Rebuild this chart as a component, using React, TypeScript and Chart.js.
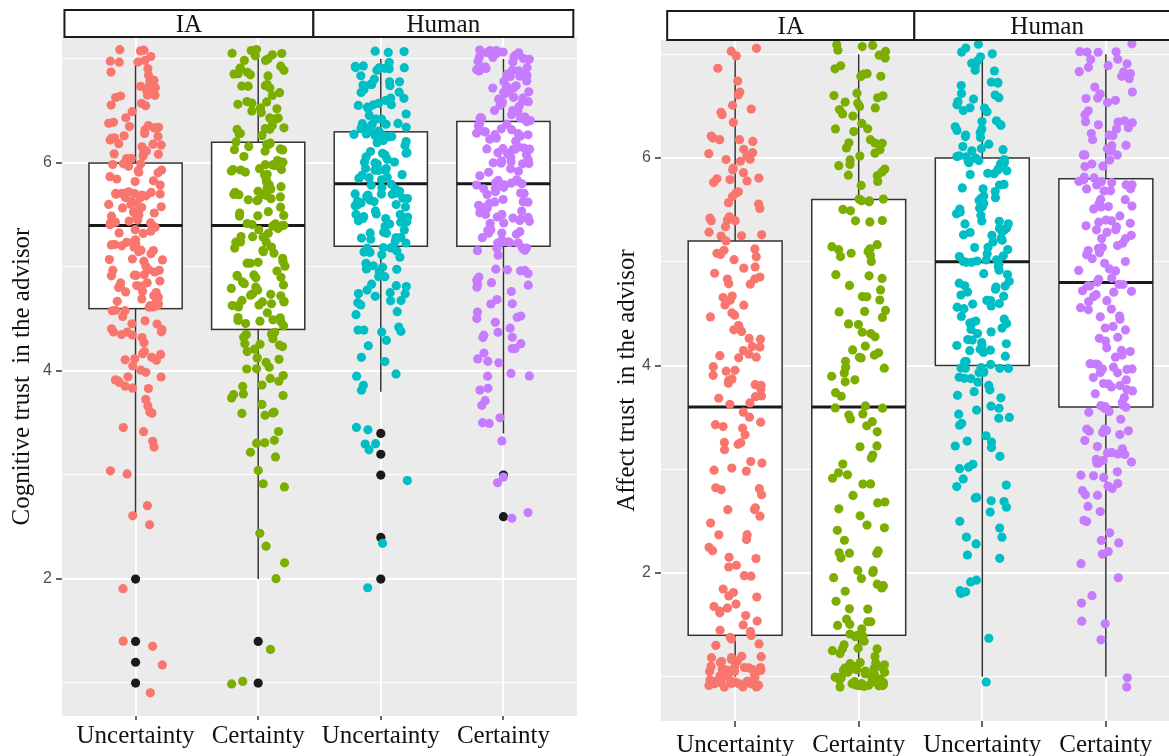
import React, { useEffect, useRef } from "react";
import { Chart, registerables } from "chart.js";

Chart.register(...registerables);

// ---------------- data ----------------
const categories = ["Uncertainty", "Certainty", "Uncertainty", "Certainty"];
const facetLabels = ["IA", "Human"];
const groupColors = ["#F8766D", "#7CAE00", "#00BFC4", "#C77CFF"];
const yTickValues = [1, 2, 3, 4, 5, 6, 7];
const yTickLabels = ["", "2", "", "4", "", "6", ""];
const scoreLevels = [
  1.0, 1.2, 1.4, 1.6, 1.8, 2.0, 2.2, 2.4, 2.6, 2.8, 3.0, 3.2, 3.4, 3.6, 3.8, 4.0,
  4.2, 4.4, 4.6, 4.8, 5.0, 5.2, 5.4, 5.6, 5.8, 6.0, 6.2, 6.4, 6.6, 6.8, 7.0,
];

// number of respondents at each score level (cognitive trust)
const cognitiveIAUncertainty = [1, 1, 2, 0, 0, 1, 0, 0, 2, 1, 2, 1, 3, 3, 5, 7, 8, 11, 13, 12, 13, 12, 14, 14, 13, 14, 11, 10, 9, 8, 9];
const cognitiveIACertainty = [2, 0, 1, 0, 0, 1, 1, 2, 0, 1, 2, 2, 4, 5, 6, 7, 8, 12, 12, 11, 11, 11, 12, 12, 11, 12, 12, 10, 9, 11, 12];
const cognitiveHumanUncertainty = [0, 0, 0, 0, 0, 1, 0, 1, 0, 0, 1, 2, 3, 0, 2, 3, 3, 5, 6, 8, 9, 14, 14, 16, 16, 17, 14, 13, 11, 10, 11];
const cognitiveHumanCertainty = [0, 0, 0, 0, 0, 0, 0, 0, 2, 0, 2, 0, 2, 3, 3, 5, 5, 6, 7, 6, 6, 13, 14, 14, 16, 15, 15, 16, 15, 16, 19];

// number of respondents at each score level (affect trust)
const affectIAUncertainty = [38, 8, 8, 6, 5, 4, 4, 4, 4, 4, 5, 4, 5, 6, 7, 7, 6, 6, 6, 6, 6, 7, 6, 6, 7, 8, 5, 4, 3, 2, 3];
const affectIACertainty = [36, 10, 8, 6, 6, 5, 5, 4, 4, 3, 4, 4, 4, 5, 5, 6, 5, 5, 6, 5, 5, 4, 4, 6, 6, 7, 7, 6, 6, 6, 7];
const affectHumanUncertainty = [1, 0, 1, 0, 3, 2, 3, 4, 4, 4, 4, 5, 5, 5, 8, 12, 10, 10, 9, 9, 12, 10, 10, 9, 9, 14, 9, 8, 7, 6, 7];
const affectHumanCertainty = [2, 0, 1, 2, 2, 2, 3, 3, 3, 6, 9, 7, 8, 10, 9, 10, 7, 6, 7, 10, 8, 9, 9, 9, 11, 10, 8, 7, 7, 7, 8];

// box plot statistics
const cognitiveQ1 = [4.6, 4.4, 5.2, 5.2];
const cognitiveMedian = [5.4, 5.4, 5.8, 5.8];
const cognitiveQ3 = [6.0, 6.2, 6.3, 6.4];
const cognitiveWhiskerLow = [2.6, 2.0, 3.8, 3.4];
const cognitiveWhiskerHigh = [7.0, 7.0, 7.0, 7.0];
const cognitiveOutliers = [[2.0, 1.4, 1.2, 1.0], [1.4, 1.0], [3.4, 3.2, 3.0, 2.4, 2.0], [3.0, 2.6]];

const affectQ1 = [1.4, 1.4, 4.0, 3.6];
const affectMedian = [3.6, 3.6, 5.0, 4.8];
const affectQ3 = [5.2, 5.6, 6.0, 5.8];
const affectWhiskerLow = [1.0, 1.0, 1.0, 1.0];
const affectWhiskerHigh = [7.0, 7.0, 7.0, 7.0];
const affectOutliers: number[][] = [[], [], [], []];

// ---------------- styling ----------------
const SERIF = "'Liberation Serif', 'Times New Roman', serif";
const SANS = "'Liberation Sans', Arial, sans-serif";
const JITTER_W = 0.22;
const JITTER_H = 0.1;
const BOX_W = 0.76;

// deterministic jitter offset in [-1, 1] (display only)
function jitter(k: number, salt: number) {
  const s = Math.sin(k * 12.9898 + salt * 78.233) * 43758.5453;
  return (s - Math.floor(s)) * 2 - 1;
}

type Layout = {
  left: number; width: number; padTop: number; padRight: number;
  yAxisWidth: number; xAxisHeight: number; titlePad: number;
  xTickLen: number; xTickPad: number; stripTop: number; stripBottom: number;
  facetEdges: number[]; yMin: number; yMax: number; seed: number;
};

type PanelSpec = {
  yTitle: string; counts: number[][]; q1: number[]; median: number[]; q3: number[];
  whiskerLow: number[]; whiskerHigh: number[]; outliers: number[][]; layout: Layout;
};

const cognitiveSpec: PanelSpec = {
  yTitle: "Cognitive trust  in the advisor",
  counts: [cognitiveIAUncertainty, cognitiveIACertainty, cognitiveHumanUncertainty, cognitiveHumanCertainty],
  q1: cognitiveQ1, median: cognitiveMedian, q3: cognitiveQ3,
  whiskerLow: cognitiveWhiskerLow, whiskerHigh: cognitiveWhiskerHigh, outliers: cognitiveOutliers,
  layout: {
    left: 0, width: 600, padTop: 37, padRight: 23, yAxisWidth: 62, xAxisHeight: 40, titlePad: 7,
    xTickLen: 4, xTickPad: 1, stripTop: 10, stripBottom: 37, facetEdges: [0.42, 2.45, 4.57],
    yMin: 0.683, yMax: 7.212, seed: 1,
  },
};

const affectSpec: PanelSpec = {
  yTitle: "Affect trust  in the advisor",
  counts: [affectIAUncertainty, affectIACertainty, affectHumanUncertainty, affectHumanCertainty],
  q1: affectQ1, median: affectMedian, q3: affectQ3,
  whiskerLow: affectWhiskerLow, whiskerHigh: affectWhiskerHigh, outliers: affectOutliers,
  layout: {
    left: 600, width: 600, padTop: 40, padRight: 20, yAxisWidth: 61, xAxisHeight: 35, titlePad: 12,
    xTickLen: 6, xTickPad: 3, stripTop: 11, stripBottom: 40, facetEdges: [0.45, 2.45, 4.6],
    yMin: 0.574, yMax: 7.137, seed: 5,
  },
};

function Panel({ spec }: { spec: PanelSpec }) {
  const ref = useRef<HTMLCanvasElement>(null);
  const L = spec.layout;

  useEffect(() => {
    const canvas = ref.current;
    if (!canvas) return;

    const pointSets = spec.counts.map((cnt, g) => {
      const pts: { x: number; y: number }[] = [];
      let k = 1;
      const salt = L.seed * 10 + g;
      cnt.forEach((n, li) => {
        for (let r = 0; r < n; r++) {
          const jx = jitter(k, salt) * JITTER_W;
          const jy = jitter(k + 5000, salt + 3) * JITTER_H;
          pts.push({ x: g + 1 + jx, y: scoreLevels[li] + jy });
          k++;
        }
      });
      return {
        type: "scatter" as const,
        data: pts,
        backgroundColor: groupColors[g],
        borderColor: groupColors[g],
        borderWidth: 0,
        pointRadius: 4.6,
        pointHoverRadius: 4.6,
        order: 1,
      };
    });

    const outlierSet = {
      type: "scatter" as const,
      data: spec.outliers.flatMap((arr, g) => arr.map((v) => ({ x: g + 1, y: v }))),
      backgroundColor: "#1A1A1A",
      borderColor: "#1A1A1A",
      borderWidth: 0,
      pointRadius: 4.6,
      pointHoverRadius: 4.6,
      order: 2,
    };

    const bgPlugin = {
      id: "panelBg",
      beforeDraw(chart: any) {
        const a = chart.chartArea;
        const ctx = chart.ctx;
        ctx.save();
        ctx.fillStyle = "#EBEBEB";
        ctx.fillRect(a.left, a.top, a.right - a.left, a.bottom - a.top);
        ctx.restore();
      },
    };

    const boxPlugin = {
      id: "boxes",
      beforeDatasetsDraw(chart: any) {
        const xs = chart.scales.x;
        const ys = chart.scales.y;
        const ctx = chart.ctx;
        ctx.save();
        for (let g = 0; g < 4; g++) {
          const cx = xs.getPixelForValue(g + 1);
          const x0 = xs.getPixelForValue(g + 1 - BOX_W / 2);
          const x1 = xs.getPixelForValue(g + 1 + BOX_W / 2);
          const yLo = ys.getPixelForValue(spec.whiskerLow[g]);
          const yHi = ys.getPixelForValue(spec.whiskerHigh[g]);
          const yQ1 = ys.getPixelForValue(spec.q1[g]);
          const yQ3 = ys.getPixelForValue(spec.q3[g]);
          const yMed = ys.getPixelForValue(spec.median[g]);
          ctx.strokeStyle = "#333333";
          ctx.lineWidth = 1.5;
          ctx.beginPath();
          ctx.moveTo(cx, yLo);
          ctx.lineTo(cx, yQ1);
          ctx.moveTo(cx, yQ3);
          ctx.lineTo(cx, yHi);
          ctx.stroke();
          ctx.fillStyle = "#FFFFFF";
          ctx.fillRect(x0, yQ3, x1 - x0, yQ1 - yQ3);
          ctx.strokeRect(x0, yQ3, x1 - x0, yQ1 - yQ3);
          ctx.strokeStyle = "#1A1A1A";
          ctx.lineWidth = 3;
          ctx.beginPath();
          ctx.moveTo(x0, yMed);
          ctx.lineTo(x1, yMed);
          ctx.stroke();
        }
        ctx.restore();
      },
    };

    const stripPlugin = {
      id: "strips",
      afterDraw(chart: any) {
        const xs = chart.scales.x;
        const ctx = chart.ctx;
        const edges = L.facetEdges.map((v) => xs.getPixelForValue(v));
        ctx.save();
        for (let f = 0; f < facetLabels.length; f++) {
          const x0 = edges[f];
          const x1 = edges[f + 1];
          ctx.fillStyle = "#FFFFFF";
          ctx.fillRect(x0, L.stripTop, x1 - x0, L.stripBottom - L.stripTop);
          ctx.strokeStyle = "#1A1A1A";
          ctx.lineWidth = 2;
          ctx.strokeRect(x0, L.stripTop, x1 - x0, L.stripBottom - L.stripTop);
          ctx.fillStyle = "#111111";
          ctx.font = `25px ${SERIF}`;
          ctx.textAlign = "center";
          ctx.textBaseline = "middle";
          ctx.fillText(facetLabels[f], (x0 + x1) / 2, (L.stripTop + L.stripBottom) / 2 + 2);
        }
        ctx.restore();
      },
    };

    const chart = new Chart(canvas, {
      type: "scatter",
      data: { datasets: [...pointSets, outlierSet] as any },
      options: {
        animation: false,
        responsive: false,
        devicePixelRatio: 1,
        events: [],
        layout: { padding: { left: 0, top: L.padTop, right: L.padRight, bottom: 0 } },
        plugins: {
          legend: { display: false },
          tooltip: { enabled: false },
        },
        scales: {
          x: {
            type: "linear",
            min: 0.4,
            max: 4.6,
            afterBuildTicks: (s: any) => {
              s.ticks = categories.map((_, i) => ({ value: i + 1 }));
            },
            afterFit: (s: any) => {
              s.height = L.xAxisHeight;
            },
            border: { display: false },
            grid: {
              color: "#FFFFFF",
              lineWidth: 2,
              tickColor: "#333333",
              tickLength: L.xTickLen,
              tickWidth: 1.5,
            },
            ticks: {
              autoSkip: false,
              maxRotation: 0,
              minRotation: 0,
              padding: L.xTickPad,
              color: "#111111",
              font: { family: SERIF, size: 25 },
              callback: (_v: any, i: number) => categories[i],
            },
          },
          y: {
            type: "linear",
            min: L.yMin,
            max: L.yMax,
            afterBuildTicks: (s: any) => {
              s.ticks = yTickValues.map((v) => ({ value: v }));
            },
            afterFit: (s: any) => {
              s.width = L.yAxisWidth;
            },
            border: { display: false },
            grid: {
              color: "#FFFFFF",
              lineWidth: (c: any) => (c.tick && c.tick.value % 2 === 0 ? 2 : 1.1),
              tickColor: (c: any) => (c.tick && c.tick.value % 2 === 0 ? "#333333" : "rgba(0,0,0,0)"),
              tickLength: 6,
              tickWidth: 1.5,
            },
            ticks: {
              padding: 4,
              color: "#4D4D4D",
              font: { family: SANS, size: 16 },
              callback: (_v: any, i: number) => yTickLabels[i],
            },
            title: {
              display: true,
              text: spec.yTitle,
              color: "#111111",
              font: { family: SERIF, size: 25 },
              padding: { top: L.titlePad, bottom: 0 },
            },
          },
        },
      } as any,
      plugins: [bgPlugin, boxPlugin, stripPlugin],
    });

    return () => chart.destroy();
  }, [spec]);

  return (
    <canvas
      ref={ref}
      width={L.width}
      height={756}
      style={{ position: "absolute", left: L.left, top: 0, width: L.width, height: 756 }}
    />
  );
}

export default function App() {
  return (
    <div
      style={{
        position: "fixed",
        left: 0,
        top: 0,
        width: 1169,
        height: 756,
        overflow: "hidden",
        background: "#FFFFFF",
      }}
    >
      <Panel spec={cognitiveSpec} />
      <Panel spec={affectSpec} />
    </div>
  );
}
